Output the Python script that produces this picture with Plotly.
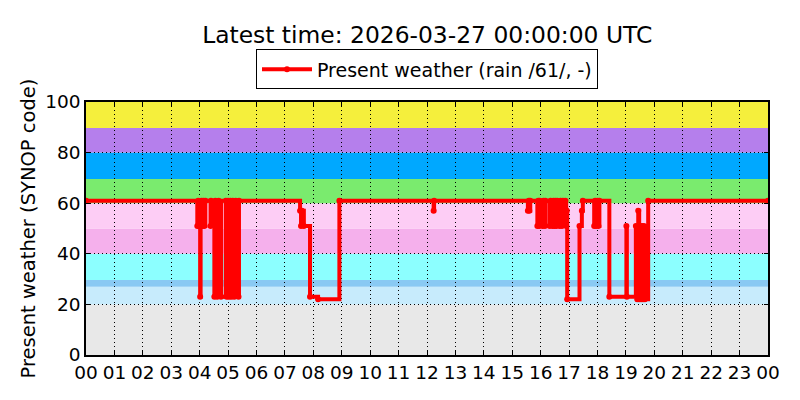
# plot.py
# Present weather (SYNOP code) over one day, drawn with Plotly

import pandas as pd
import plotly.graph_objects as go

DAY = "2026-03-26"
TITLE = "Latest time: 2026-03-27 00:00:00 UTC"
SERIES_NAME = "Present weather (rain /61/, -)"

# change points of the series (time of day, SYNOP code)
times = [
    "00:00", "03:55", "03:57", "03:59", "04:01", "04:02", "04:04", "04:06",
    "04:08", "04:10", "04:12", "04:23", "04:24", "04:31", "04:33", "04:37",
    "04:40", "04:45", "04:55", "04:57", "05:00", "05:02", "05:05", "05:07",
    "05:10", "05:13", "05:16", "05:22", "05:23", "07:32", "07:34", "07:36",
    "07:40", "07:53", "08:10", "08:55", "12:14", "12:15", "15:33", "15:35",
    "15:36", "15:38", "15:53", "15:55", "15:57", "15:58", "16:04", "16:06",
    "16:09", "16:10", "16:19", "16:21", "16:23", "16:25", "16:27", "16:29",
    "16:31", "16:33", "16:35", "16:38", "16:40", "16:42", "16:45", "16:47",
    "16:50", "16:52", "16:54", "16:55", "16:56", "17:22", "17:27", "17:29",
    "17:53", "17:55", "17:57", "18:00", "18:02", "18:04", "18:25", "19:01",
    "19:02", "19:21", "19:24", "19:26", "19:28", "19:30", "19:32", "19:34",
    "19:36", "19:38", "19:40", "19:47", "24:00",
]
codes = [
    61, 51, 61, 51, 23, 51, 61, 51,
    61, 51, 61, 51, 61, 23, 61, 23,
    61, 23, 61, 23, 61, 23, 61, 23,
    61, 23, 61, 23, 61, 57, 51, 57,
    51, 23, 22, 61, 57, 61, 57, 61,
    57, 61, 51, 61, 51, 61, 51, 61,
    51, 61, 51, 61, 57, 51, 61, 51,
    61, 51, 61, 57, 51, 61, 51, 61,
    57, 61, 51, 57, 22, 51, 57, 61,
    51, 61, 51, 61, 51, 61, 23, 51,
    23, 51, 22, 57, 22, 51, 22, 51,
    22, 51, 22, 61, 61,
]

# background bands for the SYNOP code groups
band_lo = [0, 20, 27, 29.6, 40, 50, 60, 69.6, 80, 89.7]
band_hi = [20, 27, 29.6, 40, 50, 60, 69.6, 80, 89.7, 100]
band_colors = ["#e8e8e8", "#c7ebfc", "#89c9f3", "#8cffff", "#f5b0ec",
               "#fdcdf5", "#7aeb6e", "#00a8ff", "#b57fec", "#f5ef3c"]

y_ticks = [0, 20, 40, 60, 80, 100]

x = [pd.Timestamp(DAY) + pd.to_timedelta(t + ":00") for t in times]

fig = go.Figure(go.Scatter(
    x=x,
    y=codes,
    mode="lines+markers",
    line=dict(color="#ff0000", width=4, shape="hv"),
    marker=dict(color="#ff0000", size=6),
    name=SERIES_NAME,
    showlegend=True,
))

for lo, hi, c in zip(band_lo, band_hi, band_colors):
    fig.add_shape(type="rect", xref="paper", yref="y", x0=0, x1=1, y0=lo, y1=hi,
                  fillcolor=c, line_width=0, layer="below")

fig.update_layout(
    width=800,
    height=400,
    margin=dict(l=86, r=32, t=102, b=45),
    paper_bgcolor="white",
    plot_bgcolor="white",
    font=dict(family="DejaVu Sans", color="black", size=18),
    title=dict(text=TITLE, x=0.534, xanchor="center", y=0.912, yanchor="middle",
               font=dict(size=23.4)),
    legend=dict(x=0.5, xanchor="center", y=1.05, yanchor="bottom",
                bgcolor="white", bordercolor="black", borderwidth=1,
                itemwidth=50, font=dict(size=19)),
    showlegend=True,
)

fig.update_xaxes(
    range=[pd.Timestamp(DAY), pd.Timestamp(DAY) + pd.Timedelta(days=1)],
    dtick=3600000, tickformat="%H", tick0=pd.Timestamp(DAY),
    showgrid=True, gridcolor="black", griddash="1px,3px", gridwidth=1,
    showline=True, linecolor="black", linewidth=1.5, mirror="ticks",
    ticks="inside", ticklen=4, tickcolor="black",
    tickfont=dict(size=18.5), zeroline=False,
)
fig.update_yaxes(
    range=[0, 100], tickvals=y_ticks,
    title=dict(text="Present weather (SYNOP code)", font=dict(size=19.5), standoff=4),
    showgrid=True, gridcolor="black", griddash="1px,3px", gridwidth=1,
    showline=True, linecolor="black", linewidth=1.5, mirror="ticks",
    ticks="inside", ticklen=4, tickcolor="black",
    tickfont=dict(size=18.5), zeroline=False,
)

# the page body has a default 8px margin, drop it so the figure sits at 0,0
fig.write_html("out.html", config={"displayModeBar": False},
               post_script="document.body.style.margin='0';")
